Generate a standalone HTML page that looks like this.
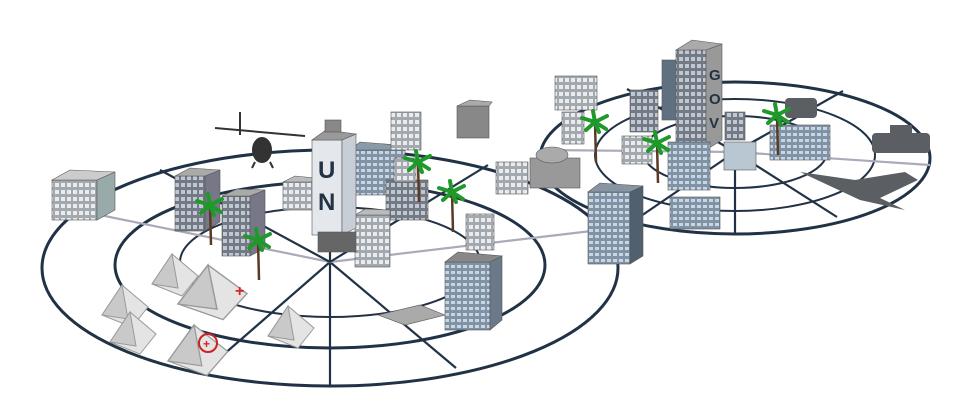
<!DOCTYPE html>
<html><head><meta charset="utf-8"><style>
html,body{margin:0;padding:0;background:#fff;width:960px;height:410px;overflow:hidden}
svg{display:block}
</style></head><body>
<svg width="960" height="410" viewBox="0 0 960 410" xmlns="http://www.w3.org/2000/svg">
<defs>
<pattern id="w" width="6" height="7" patternUnits="userSpaceOnUse"><rect width="6" height="7" fill="#a4a9ae"/><rect x="1" y="1" width="4" height="4" fill="#e8ecf0"/></pattern>
<pattern id="wd" width="6" height="7" patternUnits="userSpaceOnUse"><rect width="6" height="7" fill="#737a83"/><rect x="1" y="1" width="4" height="4" fill="#bfc8d2"/></pattern>
<pattern id="wb" width="6" height="6" patternUnits="userSpaceOnUse"><rect width="6" height="6" fill="#7f92a6"/><rect x="1" y="1" width="4" height="3" fill="#c8d6e2"/></pattern>
<g id="palm"><path d="M0 0 L1 40" stroke="#5a3a22" stroke-width="2.5"/><path d="M0 0 L-13 -4 M0 0 L12 -6 M0 0 L-9 8 M0 0 L11 7 M0 0 L-2 -11 M0 0 L4 10" stroke="#1f9a2a" stroke-width="4" stroke-linecap="round"/></g>
<g id="tent"><polygon points="0,30 20,0 46,22 30,42" fill="#e4e4e4" stroke="#9a9a9a"/><polygon points="0,30 20,0 26,34" fill="#c9c9c9" stroke="#9a9a9a"/></g>
</defs>
<g fill="none" stroke="#213246" stroke-width="3">
<ellipse cx="330" cy="268" rx="288" ry="118"/>
<ellipse cx="330" cy="265" rx="215" ry="83"/>
<ellipse cx="330" cy="262" rx="150" ry="55" stroke-width="2"/>
<ellipse cx="735" cy="158" rx="195" ry="76"/>
<ellipse cx="735" cy="155" rx="140" ry="56" stroke-width="2"/>
<ellipse cx="735" cy="152" rx="92" ry="36" stroke-width="2"/>
</g>
<g stroke="#213246" stroke-width="2.2">
<line x1="330" y1="262" x2="330" y2="386"/><line x1="330" y1="262" x2="207" y2="369"/><line x1="330" y1="262" x2="456" y2="368"/>
<line x1="330" y1="262" x2="100" y2="215" stroke="#aab"/><line x1="330" y1="262" x2="600" y2="230" stroke="#aab"/>
<line x1="330" y1="262" x2="160" y2="170"/><line x1="330" y1="262" x2="488" y2="165"/><line x1="330" y1="262" x2="330" y2="150"/>
<line x1="735" y1="152" x2="735" y2="234"/><line x1="735" y1="152" x2="638" y2="218"/><line x1="735" y1="152" x2="837" y2="217"/>
<line x1="735" y1="152" x2="545" y2="150" stroke="#aab"/><line x1="735" y1="152" x2="930" y2="165" stroke="#aab"/>
<line x1="735" y1="152" x2="627" y2="89"/><line x1="735" y1="152" x2="843" y2="91"/>
</g>
<use href="#tent" x="152" y="254"/><use href="#tent" x="102" y="285"/>
<use href="#tent" x="110" y="312"/><use href="#tent" x="268" y="306"/>
<g transform="translate(178,265) scale(1.5,1.3)"><use href="#tent"/></g>
<g transform="translate(168,325) scale(1.3,1.2)"><use href="#tent"/></g>
<text x="235" y="296" fill="#d22" font-size="16" font-family="Liberation Sans,sans-serif" font-weight="bold">+</text>
<circle cx="208" cy="343" r="9" fill="none" stroke="#c22" stroke-width="2"/><text x="203" y="348" fill="#d22" font-size="12" font-family="Liberation Sans,sans-serif" font-weight="bold">+</text>
<g stroke="#333" stroke-width="2" fill="#333"><line x1="215" y1="128" x2="305" y2="136"/><line x1="240" y1="112" x2="240" y2="135"/><ellipse cx="262" cy="150" rx="9" ry="12"/><line x1="255" y1="162" x2="252" y2="168"/><line x1="270" y1="162" x2="273" y2="168"/></g>
<g stroke="#555" stroke-width="0.6">
<rect x="52" y="180" width="45" height="40" fill="url(#w)"/><polygon points="97,180 115,172 115,210 97,220" fill="#9aa"/><polygon points="52,180 70,170 115,172 97,180" fill="#ccc"/>
<rect x="175" y="176" width="30" height="55" fill="url(#wd)"/><polygon points="205,176 220,170 220,222 205,231" fill="#778"/><polygon points="175,176 190,168 220,170 205,176" fill="#aaa"/>
<rect x="222" y="196" width="28" height="60" fill="url(#wd)"/><polygon points="250,196 265,190 265,248 250,256" fill="#778"/><polygon points="222,196 237,189 265,190 250,196" fill="#aaa"/>
<rect x="283" y="182" width="30" height="28" fill="url(#w)"/><polygon points="283,182 295,176 315,178 313,182" fill="#bbb"/>
<rect x="350" y="150" width="55" height="45" fill="url(#wb)"/><polygon points="350,150 360,142 410,146 405,150" fill="#8a9aa8"/>
<rect x="391" y="112" width="30" height="38" fill="url(#w)"/>
<rect x="386" y="180" width="42" height="40" fill="url(#wd)"/><rect x="394" y="158" width="22" height="24" fill="url(#w)"/>
<rect x="355" y="215" width="35" height="52" fill="url(#w)"/><polygon points="355,215 365,209 390,210 390,215" fill="#bbb"/>
<rect x="312" y="140" width="30" height="95" fill="#e4e8ec"/><polygon points="342,140 356,134 356,228 342,235" fill="#c7ced6"/><polygon points="312,140 326,130 356,134 342,140" fill="#999"/>
<rect x="318" y="232" width="38" height="20" fill="#666"/>
<rect x="325" y="120" width="16" height="12" fill="#888"/>
<rect x="457" y="106" width="32" height="32" fill="#888"/><polygon points="457,106 470,100 492,102 489,106" fill="#aaa"/>
<rect x="466" y="214" width="28" height="36" fill="url(#w)"/>
<rect x="445" y="262" width="45" height="68" fill="url(#wb)"/><polygon points="490,262 502,256 502,320 490,330" fill="#6a7a8a"/><polygon points="445,262 458,252 502,256 490,262" fill="#888"/>
<polygon points="378,315 420,305 445,315 405,325" fill="#aaa"/>
<rect x="496" y="162" width="32" height="32" fill="url(#w)"/>
<rect x="530" y="158" width="50" height="30" fill="#999"/><ellipse cx="552" cy="155" rx="16" ry="8" fill="#aaa"/>
<rect x="555" y="76" width="42" height="34" fill="url(#w)"/>
<rect x="562" y="112" width="22" height="32" fill="url(#w)"/>
<rect x="588" y="192" width="42" height="72" fill="url(#wb)"/><polygon points="630,192 643,186 643,256 630,264" fill="#51606e"/><polygon points="588,192 600,183 643,186 630,192" fill="#8795a3"/>
<rect x="630" y="90" width="28" height="42" fill="url(#wd)"/>
<rect x="622" y="136" width="30" height="28" fill="url(#w)"/>
<rect x="662" y="60" width="20" height="60" fill="#5f7080"/>
<rect x="676" y="50" width="30" height="100" fill="url(#wd)"/><polygon points="706,50 722,44 722,140 706,150" fill="#999"/><polygon points="676,50 692,40 722,44 706,50" fill="#aaa"/>
<rect x="668" y="142" width="42" height="48" fill="url(#wb)"/>
<rect x="670" y="197" width="50" height="32" fill="url(#wb)"/>
<rect x="724" y="142" width="32" height="28" fill="#b9c7d3"/>
<rect x="725" y="112" width="20" height="28" fill="url(#wd)"/>
<rect x="770" y="125" width="60" height="35" fill="url(#wb)"/>
</g>
<text x="318" y="178" font-family="Liberation Sans,sans-serif" font-weight="bold" font-size="24" fill="#223344">U</text>
<text x="318" y="210" font-family="Liberation Sans,sans-serif" font-weight="bold" font-size="24" fill="#223344">N</text>
<g font-family="Liberation Sans,sans-serif" font-weight="bold" font-size="15" fill="#223344"><text x="709" y="80">G</text><text x="709" y="104">O</text><text x="709" y="128">V</text></g>
<g fill="#5b5f63"><rect x="785" y="98" width="32" height="20" rx="4"/><rect x="872" y="133" width="58" height="20" rx="4"/><rect x="890" y="125" width="22" height="10"/>
<polygon points="800,172 855,180 905,172 918,180 880,198 905,210 860,200 830,186"/></g>
<use href="#palm" x="210" y="205"/><use href="#palm" x="258" y="240"/><use href="#palm" x="418" y="162"/><use href="#palm" x="452" y="192"/>
<use href="#palm" x="595" y="122"/><use href="#palm" x="657" y="143"/><use href="#palm" x="777" y="115"/>
</svg>
</body></html>
